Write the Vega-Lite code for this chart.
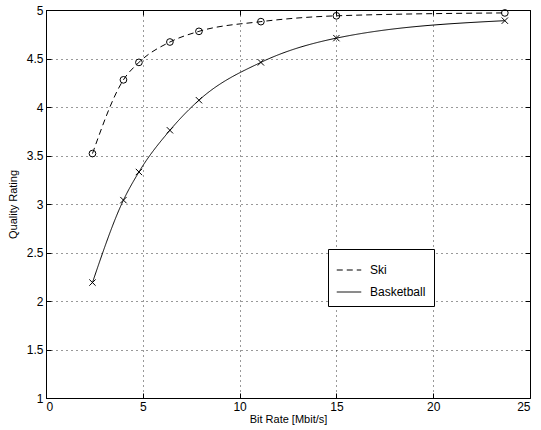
{
  "$schema": "https://vega.github.io/schema/vega-lite/v6.json",
  "autosize": "none",
  "width": 484,
  "height": 388,
  "padding": {"left": 46, "top": 10, "right": 11, "bottom": 32},
  "background": "white",
  "config": {
    "view": {"stroke": "black", "strokeWidth": 1},
    "font": "Liberation Sans",
    "axis": {
      "domain": false,
      "grid": true,
      "gridColor": "black",
      "gridDash": [1, 4],
      "gridOpacity": 0.8,
      "tickColor": "black",
      "tickSize": -5,
      "labelColor": "black",
      "labelFontSize": 12,
      "titleFontSize": 11,
      "titleFontWeight": "normal",
      "titleColor": "black"
    }
  },
  "data": {
    "values": [
      {"series": "Ski", "rate": 2.4, "quality": 3.52},
      {"series": "Ski", "rate": 4.0, "quality": 4.28},
      {"series": "Ski", "rate": 4.8, "quality": 4.46},
      {"series": "Ski", "rate": 6.4, "quality": 4.67},
      {"series": "Ski", "rate": 7.9, "quality": 4.78},
      {"series": "Ski", "rate": 11.1, "quality": 4.88},
      {"series": "Ski", "rate": 15.0, "quality": 4.94},
      {"series": "Ski", "rate": 23.7, "quality": 4.97},
      {"series": "Basketball", "rate": 2.4, "quality": 2.19},
      {"series": "Basketball", "rate": 4.0, "quality": 3.04},
      {"series": "Basketball", "rate": 4.8, "quality": 3.33},
      {"series": "Basketball", "rate": 6.4, "quality": 3.76},
      {"series": "Basketball", "rate": 7.9, "quality": 4.07},
      {"series": "Basketball", "rate": 11.1, "quality": 4.46},
      {"series": "Basketball", "rate": 15.0, "quality": 4.71},
      {"series": "Basketball", "rate": 23.7, "quality": 4.89}
    ]
  },
  "layer": [
    {
      "mark": {"type": "line", "color": "black", "strokeWidth": 1, "interpolate": "monotone"},
      "encoding": {
        "x": {
          "field": "rate", "type": "quantitative",
          "scale": {"domain": [0, 25], "nice": false, "zero": false},
          "axis": {"orient": "bottom", "values": [0, 5, 10, 15, 20, 25], "title": "Bit Rate [Mbit/s]", "labelPadding": 8, "titlePadding": 1}
        },
        "y": {
          "field": "quality", "type": "quantitative",
          "scale": {"domain": [1, 5], "nice": false, "zero": false},
          "axis": {"orient": "left", "values": [1, 1.5, 2, 2.5, 3, 3.5, 4, 4.5, 5], "format": "~g", "title": "Quality Rating", "labelPadding": 8, "titlePadding": 8}
        },
        "strokeDash": {
          "field": "series", "type": "nominal",
          "scale": {"domain": ["Ski", "Basketball"], "range": [[6, 4], [1, 0]]},
          "legend": {
            "title": null,
            "orient": "none",
            "legendX": 282,
            "legendY": 239,
            "symbolType": "stroke",
            "symbolSize": 600,
            "symbolStrokeWidth": 1,
            "symbolStrokeColor": "black",
            "labelFontSize": 12,
            "labelColor": "black",
            "fillColor": "white",
            "strokeColor": "black",
            "padding": 8,
            "rowPadding": 3,
            "labelOffset": 8,
            "labelLimit": 200
          }
        }
      }
    },
    {
      "transform": [{"filter": "datum.series == 'Ski'"}],
      "mark": {"type": "point", "filled": false, "color": "black", "strokeWidth": 1, "size": 45, "opacity": 1, "shape": "circle"},
      "encoding": {
        "x": {"field": "rate", "type": "quantitative", "axis": null},
        "y": {"field": "quality", "type": "quantitative", "axis": null}
      }
    },
    {
      "transform": [{"filter": "datum.series == 'Basketball'"}],
      "mark": {"type": "point", "filled": false, "color": "black", "strokeWidth": 1, "size": 40, "opacity": 1, "shape": "M-1,-1L1,1M1,-1L-1,1"},
      "encoding": {
        "x": {"field": "rate", "type": "quantitative", "axis": null},
        "y": {"field": "quality", "type": "quantitative", "axis": null}
      }
    },
    {
      "mark": {"type": "point", "opacity": 0},
      "encoding": {
        "x": {"field": "rate", "type": "quantitative", "axis": {"orient": "top", "values": [0, 5, 10, 15, 20, 25], "labels": false, "grid": false, "title": null}},
        "y": {"field": "quality", "type": "quantitative", "axis": {"orient": "right", "values": [1, 1.5, 2, 2.5, 3, 3.5, 4, 4.5, 5], "labels": false, "grid": false, "title": null}}
      }
    }
  ],
  "resolve": {"axis": {"x": "independent", "y": "independent"}}
}
